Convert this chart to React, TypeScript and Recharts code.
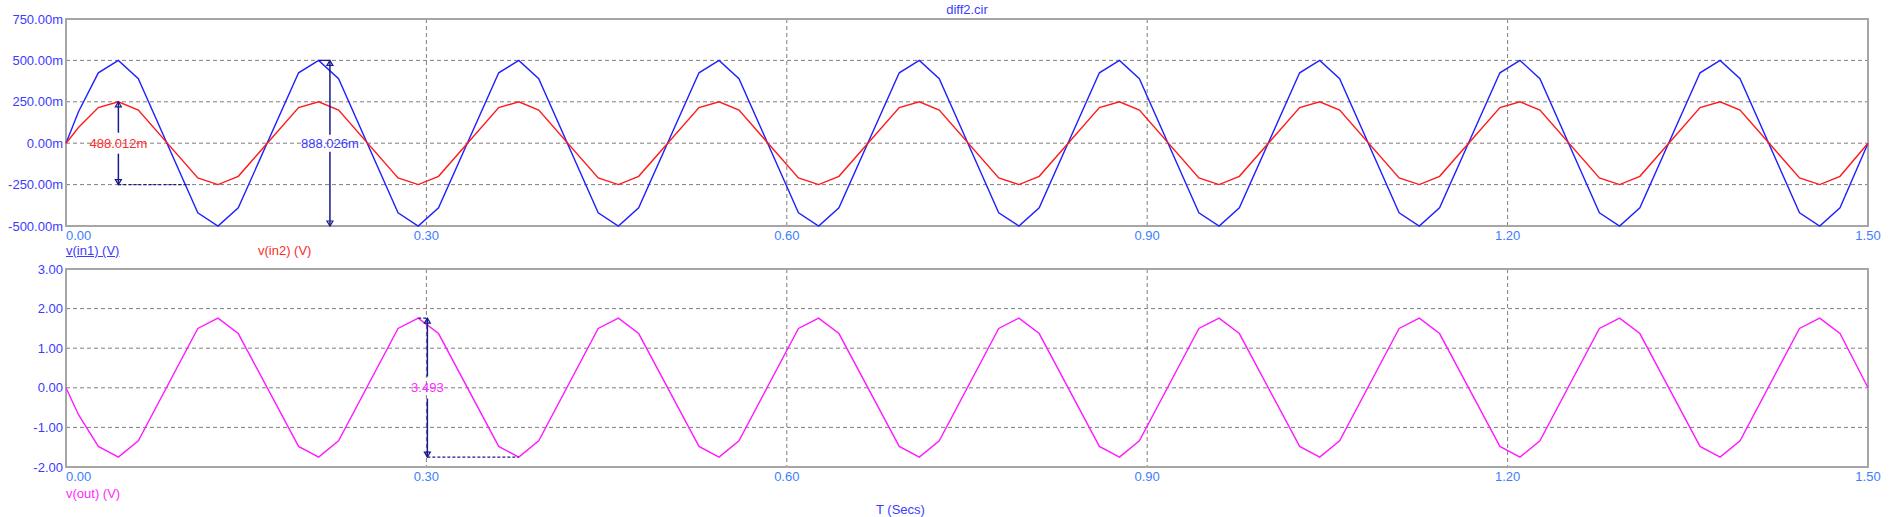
import {
  CartesianGrid,
  Line,
  LineChart,
  ReferenceArea,
  ReferenceLine,
  XAxis,
  YAxis,
} from "recharts";

// simulation time points (s)
const times = [
  0, 0.0104,
  0.0269, 0.0436, 0.0602, 0.1097, 0.1265, 0.1434,
  0.1936, 0.2103, 0.2269, 0.2764, 0.2932, 0.3101,
  0.3602, 0.3769, 0.3935, 0.443, 0.4598, 0.4767,
  0.5269, 0.5436, 0.5602, 0.6097, 0.6265, 0.6434,
  0.6936, 0.7103, 0.7269, 0.7764, 0.7932, 0.8101,
  0.8602, 0.8769, 0.8935, 0.943, 0.9598, 0.9767,
  1.0269, 1.0436, 1.0602, 1.1097, 1.1265, 1.1434,
  1.1936, 1.2103, 1.2269, 1.2764, 1.2932, 1.3101,
  1.3602, 1.3769, 1.3935, 1.443, 1.4598, 1.4767,
  1.5,
];

const vIn1 = [
  0, 0.19,
  0.425, 0.5, 0.39, -0.42, -0.5, -0.39,
  0.425, 0.5, 0.39, -0.42, -0.5, -0.39,
  0.425, 0.5, 0.39, -0.42, -0.5, -0.39,
  0.425, 0.5, 0.39, -0.42, -0.5, -0.39,
  0.425, 0.5, 0.39, -0.42, -0.5, -0.39,
  0.425, 0.5, 0.39, -0.42, -0.5, -0.39,
  0.425, 0.5, 0.39, -0.42, -0.5, -0.39,
  0.425, 0.5, 0.39, -0.42, -0.5, -0.39,
  0.425, 0.5, 0.39, -0.42, -0.5, -0.39,
  0,
];

const vIn2 = [
  0, 0.095,
  0.215, 0.25, 0.2, -0.21, -0.25, -0.2,
  0.215, 0.25, 0.2, -0.21, -0.25, -0.2,
  0.215, 0.25, 0.2, -0.21, -0.25, -0.2,
  0.215, 0.25, 0.2, -0.21, -0.25, -0.2,
  0.215, 0.25, 0.2, -0.21, -0.25, -0.2,
  0.215, 0.25, 0.2, -0.21, -0.25, -0.2,
  0.215, 0.25, 0.2, -0.21, -0.25, -0.2,
  0.215, 0.25, 0.2, -0.21, -0.25, -0.2,
  0.215, 0.25, 0.2, -0.21, -0.25, -0.2,
  0,
];

const vOut = [
  0, -0.68,
  -1.48, -1.75, -1.34, 1.5, 1.76, 1.37,
  -1.48, -1.75, -1.34, 1.5, 1.76, 1.37,
  -1.48, -1.75, -1.34, 1.5, 1.76, 1.37,
  -1.48, -1.75, -1.34, 1.5, 1.76, 1.37,
  -1.48, -1.75, -1.34, 1.5, 1.76, 1.37,
  -1.48, -1.75, -1.34, 1.5, 1.76, 1.37,
  -1.48, -1.75, -1.34, 1.5, 1.76, 1.37,
  -1.48, -1.75, -1.34, 1.5, 1.76, 1.37,
  -1.48, -1.75, -1.34, 1.5, 1.76, 1.37,
  0,
];

const xTicks = [0, 0.3, 0.6, 0.9, 1.2, 1.5];
const inTicks = [-0.5, -0.25, 0, 0.25, 0.5, 0.75];
const outTicks = [-2, -1, 0, 1, 2, 3];

const rows = times.map((t, i) => ({
  t,
  in1: vIn1[i],
  in2: vIn2[i],
  out: vOut[i],
}));

const FONT = "'Liberation Sans', Arial, sans-serif";
const NAVY = "#1a1a8c";
const GRID = "#7e7e7e";
const BORDER = "#a6a6a6";
const YLABEL = "#3c3cff";
const XLABEL = "#3d7dff";

function YTick(props: any) {
  const { y, payload, milli } = props;
  const v = payload.value as number;
  const text = milli ? `${(v * 1000).toFixed(2)}m` : v.toFixed(2);
  return (
    <text x={63} y={y + 4.5} textAnchor="end" fontSize={13} fontFamily={FONT} fill={YLABEL}>
      {text}
    </text>
  );
}

function XTick(props: any) {
  const { x, payload, index, baseline } = props;
  return (
    <text
      x={x}
      y={baseline}
      textAnchor={index === 0 ? "start" : "middle"}
      fontSize={13}
      fontFamily={FONT}
      fill={XLABEL}
    >
      {(payload.value as number).toFixed(2)}
    </text>
  );
}

// vertical measuring arrow with the reading written across its middle
function CursorArrow(props: any) {
  const { x1, y1, y2, text, color, gap } = props;
  const top = Math.min(y1, y2);
  const bottom = Math.max(y1, y2);
  const mid = (top + bottom) / 2;
  return (
    <g>
      <line x1={x1} y1={top} x2={x1} y2={mid - gap} stroke={NAVY} strokeWidth={1.5} />
      <line x1={x1} y1={mid + gap} x2={x1} y2={bottom} stroke={NAVY} strokeWidth={1.5} />
      <path
        d={`M${x1},${top} L${x1 - 3},${top + 5} L${x1 + 3},${top + 5} Z`}
        fill="none"
        stroke={NAVY}
        strokeWidth={1.2}
      />
      <path
        d={`M${x1},${bottom} L${x1 - 3},${bottom - 5} L${x1 + 3},${bottom - 5} Z`}
        fill="none"
        stroke={NAVY}
        strokeWidth={1.2}
      />
      <text x={x1} y={mid + 4.5} textAnchor="middle" fontSize={13} fontFamily={FONT} fill={color}>
        {text}
      </text>
    </g>
  );
}

const labelStyle: React.CSSProperties = {
  position: "absolute",
  fontFamily: FONT,
  fontSize: 13,
  lineHeight: "15px",
  whiteSpace: "nowrap",
};

export default function App() {
  return (
    <div
      style={{
        position: "absolute",
        left: 0,
        top: 0,
        width: 1900,
        height: 517,
        background: "#ffffff",
        overflow: "hidden",
      }}
    >
      <div style={{ ...labelStyle, left: 0, width: 1934, top: 2, textAlign: "center", color: YLABEL }}>
        diff2.cir
      </div>

      <div style={{ position: "absolute", left: 0, top: 0 }}>
        <LineChart width={1900} height={260} data={rows} margin={{ top: 19, right: 32, left: 0, bottom: 0 }}>
          <CartesianGrid stroke={GRID} strokeDasharray="4 3" />
          <ReferenceArea x1={0} x2={1.5} y1={-0.5} y2={0.75} fill="none" stroke={BORDER} strokeWidth={2} />
          <XAxis
            dataKey="t"
            type="number"
            domain={[0, 1.5]}
            ticks={xTicks}
            interval={0}
            axisLine={false}
            tickLine={false}
            height={34}
            tick={<XTick baseline={239.5} />}
          />
          <YAxis
            type="number"
            domain={[-0.5, 0.75]}
            ticks={inTicks}
            interval={0}
            axisLine={false}
            tickLine={false}
            width={66}
            tick={<YTick milli />}
          />
          <Line dataKey="in1" type="linear" stroke="#2020ff" strokeWidth={1.4} dot={false} isAnimationActive={false} />
          <Line dataKey="in2" type="linear" stroke="#ff1a1a" strokeWidth={1.4} dot={false} isAnimationActive={false} />
          <ReferenceLine
            segment={[{ x: 0.0436, y: -0.25 }, { x: 0.103, y: -0.25 }]}
            stroke={NAVY}
            strokeDasharray="3 2"
            strokeWidth={1.3}
          />
          <ReferenceLine
            segment={[{ x: 0.0436, y: 0.25 }, { x: 0.0436, y: -0.25 }]}
            shape={(p: any) => <CursorArrow {...p} text="488.012m" color="#ff2a2a" gap={10.5} />}
          />
          <ReferenceLine
            segment={[{ x: 0.2103, y: 0.5 }, { x: 0.2197, y: 0.5 }]}
            stroke={NAVY}
            strokeWidth={1.3}
          />
          <ReferenceLine
            segment={[{ x: 0.2197, y: 0.5 }, { x: 0.2197, y: -0.5 }]}
            shape={(p: any) => <CursorArrow {...p} text="888.026m" color="#3c3cff" gap={8.5} />}
          />
        </LineChart>
      </div>

      <div style={{ ...labelStyle, left: 66, top: 243, color: YLABEL, textDecoration: "underline" }}>v(in1) (V)</div>
      <div style={{ ...labelStyle, left: 258, top: 243, color: "#ff2a2a" }}>v(in2) (V)</div>

      <div style={{ position: "absolute", left: 0, top: 250 }}>
        <LineChart width={1900} height={267} data={rows} margin={{ top: 19, right: 32, left: 0, bottom: 0 }}>
          <CartesianGrid stroke={GRID} strokeDasharray="4 3" />
          <ReferenceArea x1={0} x2={1.5} y1={-2} y2={3} fill="none" stroke={BORDER} strokeWidth={2} />
          <XAxis
            dataKey="t"
            type="number"
            domain={[0, 1.5]}
            ticks={xTicks}
            interval={0}
            axisLine={false}
            tickLine={false}
            height={50}
            tick={<XTick baseline={231} />}
          />
          <YAxis
            type="number"
            domain={[-2, 3]}
            ticks={outTicks}
            interval={0}
            axisLine={false}
            tickLine={false}
            width={66}
            tick={<YTick />}
          />
          <Line dataKey="out" type="linear" stroke="#ff1aff" strokeWidth={1.4} dot={false} isAnimationActive={false} />
          <ReferenceLine
            segment={[{ x: 0.2932, y: 1.76 }, { x: 0.3008, y: 1.76 }]}
            stroke={NAVY}
            strokeDasharray="3 2"
            strokeWidth={1.3}
          />
          <ReferenceLine
            segment={[{ x: 0.3008, y: -1.75 }, { x: 0.3769, y: -1.75 }]}
            stroke={NAVY}
            strokeDasharray="3 2"
            strokeWidth={1.3}
          />
          <ReferenceLine
            segment={[{ x: 0.3008, y: 1.76 }, { x: 0.3008, y: -1.75 }]}
            shape={(p: any) => <CursorArrow {...p} text="3.493" color="#ff2aff" gap={11} />}
          />
        </LineChart>
      </div>

      <div style={{ ...labelStyle, left: 66, top: 486, color: "#ff2aff" }}>v(out) (V)</div>
      <div style={{ ...labelStyle, left: 876, top: 502, color: YLABEL }}>T (Secs)</div>
    </div>
  );
}
